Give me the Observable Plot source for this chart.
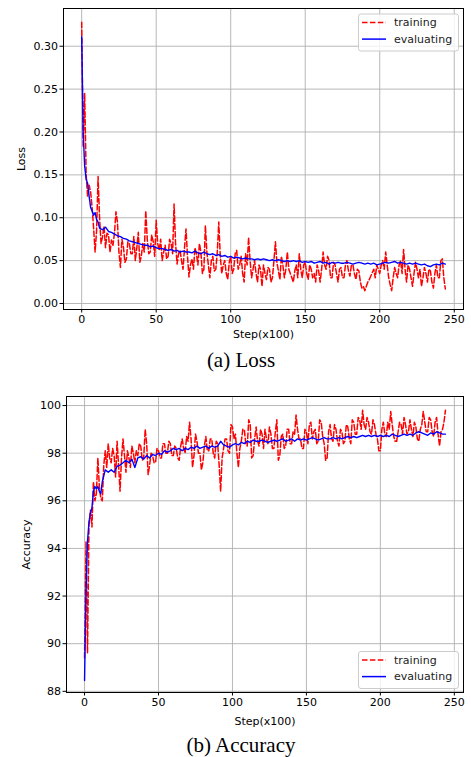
<!DOCTYPE html>
<html>
<head>
<meta charset="utf-8">
<script src="https://cdn.jsdelivr.net/npm/d3@7"></script>
<script src="https://cdn.jsdelivr.net/npm/@observablehq/plot@0.6"></script>
<style>
  html, body { margin: 0; padding: 0; background: #fff; }
  #page { position: relative; width: 471px; height: 757px; overflow: hidden; background: #fff; }
  .panel { position: absolute; left: 0; }
  #overlay { position: absolute; left: 0; top: 0; pointer-events: none; }
</style>
</head>
<body>
<div id="page">
  <div id="loss" class="panel" style="top:0px"></div>
  <div id="acc" class="panel" style="top:388px"></div>
  <svg id="overlay" width="471" height="757"></svg>
</div>
<script>
// ---------- data ----------
const xTicks = [0, 50, 100, 150, 200, 250];
const lossTicks = [0.00, 0.05, 0.10, 0.15, 0.20, 0.25, 0.30];
const accTicks = [88, 90, 92, 94, 96, 98, 100];
const seriesNames = ["training", "evaluating"];
const captions = ["(a) Loss", "(b) Accuracy"];

// training logged every step (x100): 0..244
const trainSteps = d3.range(0, 245);
// evaluation: 0..11 then every 2 up to 244
const evalSteps = [0,1,2,3,4,5,6,7,8,9,10,11].concat(d3.range(12, 245, 2));

const trainLoss = [
  0.328,0.182,0.245,0.150,0.125,0.138,0.130,0.112,0.088,0.060,
  0.085,0.148,0.100,0.070,0.078,0.090,0.065,0.082,0.080,0.060,
  0.074,0.068,0.082,0.107,0.095,0.060,0.042,0.075,0.066,0.048,
  0.052,0.072,0.070,0.058,0.058,0.078,0.050,0.065,0.083,0.048,
  0.055,0.070,0.060,0.108,0.075,0.058,0.060,0.080,0.072,0.055,
  0.097,0.070,0.062,0.075,0.050,0.060,0.068,0.052,0.055,0.075,
  0.070,0.058,0.116,0.070,0.046,0.058,0.062,0.050,0.040,0.065,
  0.087,0.055,0.031,0.045,0.052,0.040,0.065,0.058,0.045,0.070,
  0.060,0.035,0.040,0.091,0.060,0.045,0.030,0.050,0.055,0.038,
  0.040,0.060,0.095,0.055,0.035,0.045,0.050,0.035,0.028,0.048,
  0.055,0.035,0.040,0.058,0.062,0.040,0.045,0.055,0.035,0.025,
  0.058,0.045,0.077,0.050,0.030,0.040,0.050,0.035,0.025,0.045,
  0.040,0.020,0.045,0.035,0.028,0.042,0.040,0.025,0.030,0.050,
  0.072,0.048,0.038,0.028,0.055,0.045,0.030,0.040,0.060,0.040,
  0.035,0.030,0.025,0.038,0.045,0.030,0.058,0.040,0.030,0.045,
  0.048,0.035,0.028,0.045,0.040,0.030,0.035,0.025,0.045,0.038,
  0.025,0.040,0.060,0.045,0.040,0.055,0.050,0.030,0.030,0.048,
  0.045,0.035,0.025,0.040,0.042,0.030,0.030,0.045,0.050,0.038,
  0.032,0.045,0.045,0.035,0.028,0.040,0.038,0.025,0.018,0.020,
  0.015,0.020,0.025,0.028,0.032,0.036,0.040,0.030,0.045,0.040,
  0.035,0.045,0.050,0.040,0.060,0.045,0.030,0.022,0.015,0.030,
  0.042,0.035,0.030,0.045,0.050,0.035,0.063,0.040,0.025,0.045,
  0.040,0.030,0.020,0.035,0.048,0.040,0.030,0.040,0.020,0.030,
  0.042,0.035,0.025,0.040,0.038,0.025,0.018,0.035,0.045,0.030,
  0.030,0.050,0.052,0.030,0.017
];
const evalLoss = [
  0.311,0.200,0.160,0.145,0.140,0.125,0.112,0.108,0.103,0.106,0.098,0.095,
  0.088,0.086,0.089,0.084,0.083,0.081,0.079,0.078,0.076,0.075,
  0.073,0.072,0.071,0.070,0.069,0.068,0.068,0.066,0.067,0.065,
  0.064,0.064,0.063,0.062,0.063,0.061,0.062,0.060,0.061,0.060,
  0.060,0.059,0.061,0.059,0.058,0.060,0.058,0.057,0.058,0.056,
  0.057,0.055,0.056,0.054,0.055,0.053,0.054,0.053,0.052,0.053,
  0.052,0.052,0.051,0.052,0.051,0.052,0.051,0.050,0.051,0.050,
  0.051,0.050,0.049,0.050,0.049,0.050,0.049,0.050,0.048,0.049,
  0.048,0.049,0.047,0.048,0.049,0.047,0.048,0.046,0.048,0.047,
  0.048,0.047,0.047,0.048,0.047,0.046,0.047,0.048,0.047,0.046,
  0.047,0.046,0.047,0.045,0.046,0.047,0.048,0.047,0.048,0.049,
  0.047,0.048,0.047,0.046,0.047,0.046,0.047,0.046,0.045,0.046,
  0.044,0.043,0.045,0.046,0.045,0.047,0.046
];
const trainAcc = [
  89.4,94.3,89.6,95.0,95.6,94.9,96.8,96.0,96.3,97.8,
  96.6,96.1,96.0,97.5,98.1,97.4,98.4,97.8,97.6,98.2,
  97.9,97.0,98.5,97.5,96.4,97.8,98.6,97.9,97.2,98.1,
  97.8,97.4,98.3,98.0,97.6,98.1,97.9,98.4,98.3,97.7,
  97.8,99.0,98.4,97.1,97.5,98.0,97.9,97.6,97.6,98.2,
  98.1,97.8,97.8,98.4,98.4,98.0,98.0,98.5,98.4,97.9,
  97.9,98.3,98.2,97.8,97.7,98.3,98.6,98.2,98.0,98.7,
  98.5,99.3,98.6,97.4,97.9,98.8,98.5,98.0,98.0,97.3,
  97.6,98.3,98.7,98.1,98.1,98.6,98.6,98.0,97.8,98.5,
  98.4,97.5,96.4,97.8,98.2,98.6,98.6,98.1,98.0,99.2,
  99.1,98.6,98.8,98.0,97.4,98.2,98.5,99.0,99.0,98.4,
  98.3,99.4,99.2,97.8,97.9,98.6,99.1,98.5,98.3,99.0,
  98.8,98.2,99.0,98.6,98.4,99.1,98.8,98.2,98.2,98.9,
  99.4,97.7,97.9,98.7,98.8,98.2,98.3,99.0,99.0,98.4,
  98.4,98.9,98.8,99.6,99.0,98.6,98.6,98.2,98.2,99.0,
  98.9,98.4,99.2,99.3,98.6,98.9,99.0,98.4,98.5,99.4,
  99.3,98.7,98.4,97.7,97.8,98.9,99.2,98.6,98.5,99.2,
  99.0,98.5,98.3,99.0,98.9,98.4,98.5,99.2,99.1,98.6,
  98.4,99.4,99.3,98.8,98.8,99.5,99.4,99.0,99.8,99.2,
  99.0,99.5,99.3,98.9,98.8,99.4,99.2,98.8,98.6,98.1,
  98.1,99.0,99.3,98.8,98.7,99.3,99.0,99.75,99.2,98.7,
  98.5,98.5,98.9,99.3,99.2,98.8,99.5,99.2,98.8,98.9,
  99.4,99.0,98.7,99.3,99.1,98.6,98.5,99.0,99.2,99.75,
  99.3,98.9,98.9,99.5,99.4,98.9,98.7,99.3,99.5,98.8,
  98.3,98.9,99.0,99.3,99.8
];
const evalAcc = [
  88.45,92.2,94.3,95.1,95.5,95.7,96.4,96.6,96.5,96.6,96.4,96.3,
  96.8,97.3,97.2,97.3,97.2,97.45,97.5,97.6,97.7,97.6,
  97.75,97.4,97.8,97.85,97.75,97.9,97.8,97.95,97.9,98.0,
  97.95,98.1,98.05,98.1,98.2,98.15,98.2,98.1,98.2,98.15,
  98.25,98.2,98.3,98.2,98.25,98.3,98.2,98.3,98.25,98.3,
  98.5,98.35,98.3,98.25,98.35,98.4,98.35,98.45,98.4,98.5,
  98.45,98.55,98.5,98.5,98.55,98.5,98.45,98.5,98.55,98.5,
  98.55,98.6,98.5,98.55,98.6,98.5,98.6,98.55,98.6,98.55,
  98.6,98.65,98.6,98.55,98.6,98.65,98.6,98.6,98.65,98.6,
  98.65,98.6,98.65,98.7,98.65,98.7,98.65,98.7,98.75,98.7,
  98.75,98.7,98.75,98.7,98.75,98.7,98.75,98.7,98.8,98.75,
  98.7,98.75,98.8,98.75,98.8,98.75,98.85,98.9,98.85,98.8,
  98.75,98.85,98.8,98.9,98.85,98.8,98.8
];

// ---------- styles ----------
const RED = "#ff0000", BLUE = "#0000ff", GRID = "#b0b0b0";
const DASH = "5.5,2.4";
const FONT = "'DejaVu Sans', sans-serif";

function panel({train, evals, yDomain, yTicks, yFormat, yLabel, marginLeft, height, yLabelOffset, xLabelOffset}) {
  const trainRows = trainSteps.map((s, i) => ({step: s, value: train[i]}));
  const evalRows = evalSteps.map((s, i) => ({step: s, value: evals[i]}));
  return Plot.plot({
    width: 471,
    height,
    marginLeft,
    marginRight: 8,
    marginTop: 8,
    marginBottom: 36,
    style: {fontFamily: FONT, fontSize: "11px", color: "#000", background: "transparent", overflow: "visible"},
    x: {domain: [-12.2, 256.2]},
    y: {domain: yDomain},
    marks: [
      Plot.gridX(xTicks, {stroke: GRID, strokeOpacity: 1, strokeWidth: 0.9}),
      Plot.gridY(yTicks, {stroke: GRID, strokeOpacity: 1, strokeWidth: 0.9}),
      Plot.line(trainRows, {x: "step", y: "value", stroke: RED, strokeWidth: 1.5, strokeDasharray: DASH}),
      Plot.line(evalRows, {x: "step", y: "value", stroke: BLUE, strokeWidth: 1.4}),
      Plot.frame({stroke: "#000", strokeWidth: 1}),
      Plot.axisX(xTicks, {tickSize: 3.5, tickPadding: 2, label: "Step(x100)", labelAnchor: "center", labelArrow: "none", labelOffset: xLabelOffset}),
      Plot.axisY(yTicks, {tickSize: 3.5, tickPadding: 2, tickFormat: yFormat, label: yLabel, labelAnchor: "center", labelArrow: "none", labelOffset: yLabelOffset})
    ]
  });
}

document.getElementById("loss").append(panel({
  train: trainLoss, evals: evalLoss,
  yDomain: [-0.007, 0.344], yTicks: lossTicks, yFormat: d3.format(".2f"),
  yLabel: "Loss", marginLeft: 63, height: 345, yLabelOffset: 46, xLabelOffset: 28
}));
document.getElementById("acc").append(panel({
  train: trainAcc, evals: evalAcc,
  yDomain: [87.95, 100.38], yTicks: accTicks, yFormat: d3.format("d"),
  yLabel: "Accuracy", marginLeft: 66, height: 340, yLabelOffset: 44, xLabelOffset: 32
}));

// ---------- legends and captions (overlay) ----------
const ov = d3.select("#overlay");
function legend(x0, y0) {
  const g = ov.append("g").attr("transform", `translate(${x0},${y0})`);
  g.append("rect").attr("x", 0.5).attr("y", 0.5).attr("width", 100).attr("height", 37)
    .attr("rx", 2.5).attr("fill", "rgba(255,255,255,0.8)").attr("stroke", "#cccccc").attr("stroke-width", 1);
  const colors = [RED, BLUE], dashes = [DASH, null];
  seriesNames.forEach((name, i) => {
    const cy = 9 + i * 16.6;
    g.append("line").attr("x1", 4).attr("x2", 28).attr("y1", cy).attr("y2", cy)
      .attr("stroke", colors[i]).attr("stroke-width", 1.5).attr("stroke-dasharray", dashes[i]);
    g.append("text").attr("x", 36).attr("y", cy).attr("dy", "0.35em")
      .attr("font-family", FONT).attr("font-size", 11).attr("fill", "#222").text(name);
  });
}
legend(358, 13.5);
legend(358, 651);

[[366.5, captions[0]], [751.5, captions[1]]].forEach(([y, t]) => {
  ov.append("text").attr("x", 241).attr("y", y).attr("text-anchor", "middle")
    .attr("font-family", "'Liberation Serif', 'Times New Roman', serif").attr("font-size", 21)
    .attr("fill", "#000").text(t);
});
</script>
</body>
</html>
